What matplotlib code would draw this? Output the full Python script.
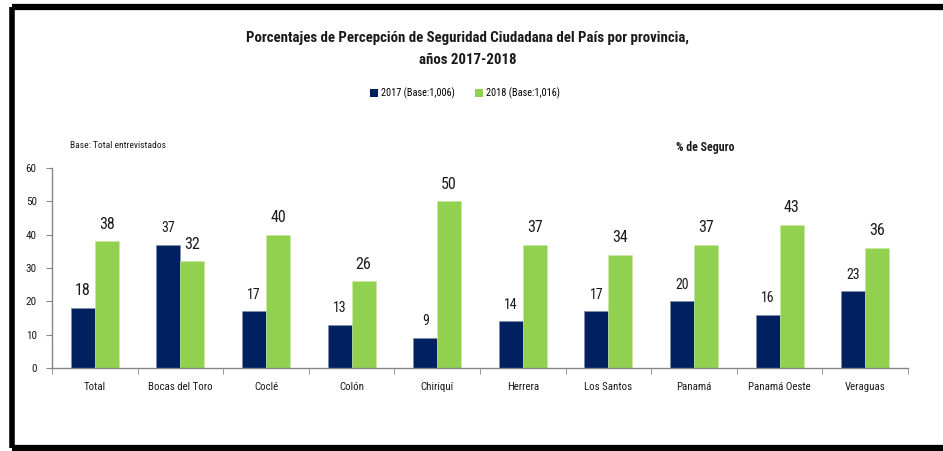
import matplotlib.pyplot as plt
import numpy as np
from matplotlib.lines import Line2D
from matplotlib.patches import Patch

plt.rcParams['font.family'] = ['Roboto Condensed', 'DejaVu Sans']

# Datos
provincias = ["Total", "Bocas del Toro", "Coclé", "Colón", "Chiriquí",
              "Herrera", "Los Santos", "Panamá", "Panamá Oeste", "Veraguas"]
valores_2017 = [18, 37, 17, 13, 9, 14, 17, 20, 16, 23]
valores_2018 = [38, 32, 40, 26, 50, 37, 34, 37, 43, 36]
serie_2017 = "2017 (Base:1,006)"
serie_2018 = "2018 (Base:1,016)"

AZUL = "#002060"
VERDE = "#92D050"
GRIS = "#868686"
TEXTO = "#1a1a1a"

fig = plt.figure(figsize=(9.43, 4.51), dpi=100)
ax = fig.add_axes([0.0551, 0.184, 0.9078, 0.4435])

x = np.arange(len(provincias))
w = 0.28
ax.bar(x - w / 2, valores_2017, w, color=AZUL, edgecolor="#7f8fa6", linewidth=0.4)
ax.bar(x + w / 2, valores_2018, w, color=VERDE, edgecolor="#c9e7a6", linewidth=0.4)

# Etiquetas de datos (la de Total 2017 va en tamaño grande)
for i, (v1, v2) in enumerate(zip(valores_2017, valores_2018)):
    fs1 = 11.5 if i == 0 else 10
    ax.annotate(str(v1), (x[i] - w / 2, v1), xytext=(0, 7), textcoords="offset points",
                ha="center", va="bottom", fontsize=fs1, color=TEXTO)
    ax.annotate(str(v2), (x[i] + w / 2, v2), xytext=(0, 7), textcoords="offset points",
                ha="center", va="bottom", fontsize=11.5, color=TEXTO)

ax.set_xlim(-0.5, len(provincias) - 0.5)
ax.set_ylim(0, 60)
ax.set_yticks(range(0, 61, 10))
ax.set_xticks(x)
ax.set_xticklabels(provincias, fontsize=7.8, color=TEXTO)
ax.set_xticks(np.arange(-0.5, len(provincias)), minor=True)
ax.tick_params(axis="x", which="major", length=0, pad=10)
ax.tick_params(axis="x", which="minor", length=4, color=GRIS, direction="out")
ax.tick_params(axis="y", length=4, color=GRIS, labelsize=8, labelcolor=TEXTO, pad=7)
for s in ["top", "right"]:
    ax.spines[s].set_visible(False)
for s in ["left", "bottom"]:
    ax.spines[s].set_color(GRIS)
    ax.spines[s].set_linewidth(1.0)

# Títulos y textos
fig.text(0.496, 0.915, "Porcentajes de Percepción de Seguridad Ciudadana del País por provincia,",
         ha="center", va="center", fontsize=10.7, fontweight="bold", color=TEXTO)
fig.text(0.496, 0.868, "años 2017-2018",
         ha="center", va="center", fontsize=10.7, fontweight="bold", color=TEXTO)
fig.text(0.074, 0.678, "Base: Total entrevistados", ha="left", va="center",
         fontsize=6.8, color=TEXTO)
fig.text(0.717, 0.672, "% de Seguro", ha="left", va="center",
         fontsize=8.6, fontweight="bold", color=TEXTO)

handles = [Patch(facecolor=AZUL), Patch(facecolor=VERDE)]
fig.legend(handles, [serie_2017, serie_2018], loc="center", bbox_to_anchor=(0.493, 0.793),
           ncol=2, frameon=False, fontsize=7.4, handlelength=0.75, handleheight=0.75,
           handletextpad=0.3, columnspacing=2.0)

# Marco negro
fig.add_artist(Line2D([0.0127, 1.0], [0.984, 0.984], color="black", linewidth=4.5,
                      transform=fig.transFigure, solid_capstyle="butt"))
fig.add_artist(Line2D([0.0127, 0.0127], [0.007, 0.984], color="black", linewidth=4.0,
                      transform=fig.transFigure, solid_capstyle="butt"))
fig.add_artist(Line2D([0.0127, 1.0], [0.007, 0.007], color="black", linewidth=4.5,
                      transform=fig.transFigure, solid_capstyle="butt"))

fig.savefig("out.png", dpi=100)
